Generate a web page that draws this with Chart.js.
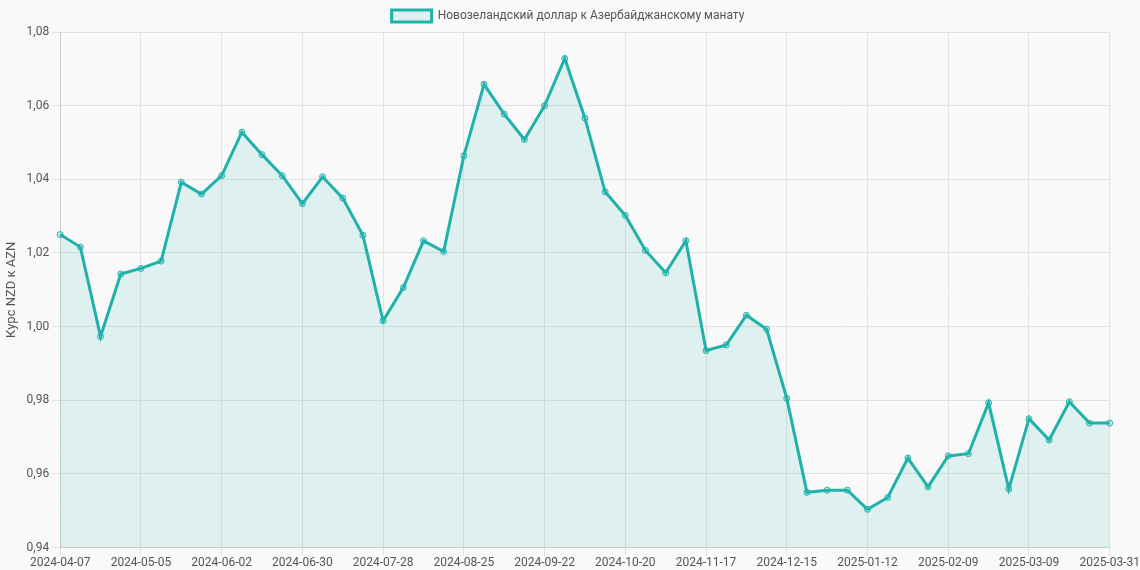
<!DOCTYPE html>
<html><head><meta charset="utf-8">
<script src="https://cdn.jsdelivr.net/npm/chart.js@4"></script>
<style>html,body{margin:0;background:#f9f9f9}#w{width:1140px;height:570px}</style>
</head><body><div id="w"><canvas id="c"></canvas></div>
<script>
const labels=["2024-04-07","2024-04-14","2024-04-21","2024-04-28","2024-05-05","2024-05-12","2024-05-19","2024-05-26","2024-06-02","2024-06-09","2024-06-16","2024-06-23","2024-06-30","2024-07-07","2024-07-14","2024-07-21","2024-07-28","2024-08-04","2024-08-11","2024-08-18","2024-08-25","2024-09-01","2024-09-08","2024-09-15","2024-09-22","2024-09-29","2024-10-06","2024-10-13","2024-10-20","2024-10-27","2024-11-03","2024-11-10","2024-11-17","2024-11-24","2024-12-01","2024-12-08","2024-12-15","2024-12-22","2024-12-29","2025-01-05","2025-01-12","2025-01-19","2025-01-26","2025-02-02","2025-02-09","2025-02-16","2025-02-23","2025-03-02","2025-03-09","2025-03-16","2025-03-23","2025-03-30","2025-03-31"];
const rates=[1.025,1.0216,0.9973,1.0143,1.0158,1.0178,1.0392,1.036,1.041,1.0528,1.0467,1.041,1.0334,1.0407,1.0349,1.0248,1.0016,1.0106,1.0233,1.0204,1.0464,1.0658,1.0577,1.0508,1.06,1.0728,1.0566,1.0366,1.0302,1.0207,1.0146,1.0233,0.9935,0.995,1.0031,0.9993,0.9805,0.955,0.9556,0.9556,0.9504,0.9536,0.9643,0.9565,0.9649,0.9655,0.9793,0.9559,0.975,0.9692,0.9796,0.9738,0.9738];
const yTicks=[0.94,0.96,0.98,1.00,1.02,1.04,1.06,1.08];
const teal='#20b2aa';
new Chart(document.getElementById('c'),{type:'line',
data:{labels,datasets:[{label:'Новозеландский доллар к Азербайджанскому манату',data:rates,borderColor:teal,backgroundColor:'rgba(32,178,170,0.12)',fill:true,borderWidth:3,tension:0,pointRadius:3,pointBorderWidth:1,pointBackgroundColor:'rgba(32,178,170,0.2)',pointBorderColor:teal}]},
options:{responsive:true,maintainAspectRatio:false,animation:false,
layout:{padding:{right:4,bottom:0}},
plugins:{legend:{labels:{color:'#555',font:{family:'Roboto',size:12},boxWidth:40,boxHeight:12}}},
scales:{x:{grid:{color:c=>(c.index%4===0||c.index===52)?'#e2e2e2':'rgba(0,0,0,0)'},ticks:{autoSkip:false,maxRotation:0,padding:0,color:'#555',font:{family:'Roboto',size:12},callback:(v,i)=>i%4===0?labels[i]:''}},
y:{min:0.94,max:1.08,afterBuildTicks:a=>{a.ticks=yTicks.map(v=>({value:v}))},grid:{color:'#e2e2e2'},title:{display:true,text:'Курс NZD к AZN',color:'#555',font:{family:'Roboto',size:13}},ticks:{color:'#555',font:{family:'Roboto',size:12},callback:v=>v.toFixed(2).replace('.',',')}}}}});
</script></body></html>
